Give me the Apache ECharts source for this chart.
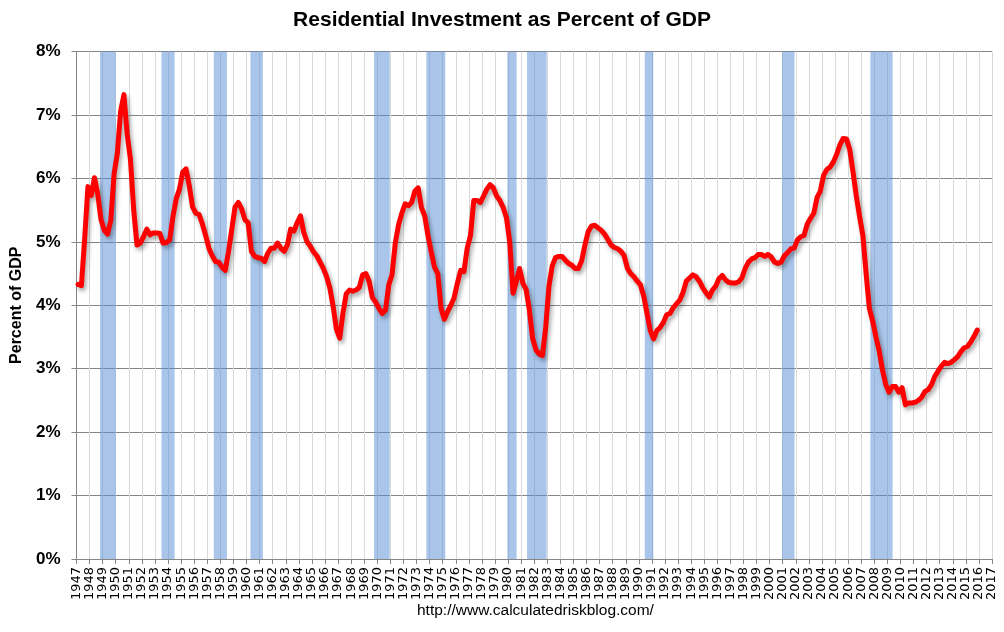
<!DOCTYPE html>
<html>
<head>
<meta charset="utf-8">
<title>Residential Investment as Percent of GDP</title>
<script src="https://cdn.jsdelivr.net/npm/echarts@6/dist/echarts.min.js"></script>
<style>
html,body{margin:0;padding:0;background:#fff;}
#chart{width:1004px;height:632px;}
</style>
</head>
<body>
<div id="chart"></div>
<script>
// quarterly series, first value is 1947 Q1
var startYear = 1947;
var endYear = 2017;
var resInvestPct = [
	4.33, 4.31, 5.05, 5.87, 5.73, 6.01, 5.75, 5.35, 5.18, 5.12, 5.34, 6.07,
	6.40, 7.06, 7.32, 6.70, 6.30, 5.50, 4.95, 4.98, 5.08, 5.20, 5.11, 5.14,
	5.14, 5.13, 4.98, 4.99, 5.03, 5.40, 5.68, 5.83, 6.10, 6.15, 5.88, 5.55,
	5.45, 5.43, 5.28, 5.10, 4.90, 4.78, 4.69, 4.68, 4.60, 4.55, 4.85, 5.20,
	5.55, 5.62, 5.52, 5.35, 5.30, 4.85, 4.77, 4.75, 4.74, 4.69, 4.82, 4.90,
	4.90, 4.98, 4.90, 4.85, 4.95, 5.20, 5.17, 5.30, 5.41, 5.15, 5.00, 4.93,
	4.84, 4.78, 4.68, 4.58, 4.45, 4.27, 3.98, 3.62, 3.48, 3.88, 4.18, 4.24,
	4.22, 4.24, 4.28, 4.48, 4.50, 4.38, 4.12, 4.05, 3.95, 3.87, 3.92, 4.32,
	4.48, 4.98, 5.27, 5.45, 5.60, 5.57, 5.62, 5.80, 5.85, 5.54, 5.41, 5.10,
	4.84, 4.60, 4.50, 3.95, 3.78, 3.90, 4.00, 4.12, 4.35, 4.55, 4.53, 4.90,
	5.10, 5.65, 5.65, 5.62, 5.72, 5.83, 5.90, 5.85, 5.72, 5.65, 5.54, 5.38,
	5.00, 4.19, 4.37, 4.58, 4.35, 4.25, 3.93, 3.48, 3.30, 3.23, 3.21, 3.65,
	4.30, 4.62, 4.75, 4.77, 4.77, 4.71, 4.66, 4.63, 4.58, 4.58, 4.70, 4.95,
	5.16, 5.25, 5.26, 5.22, 5.18, 5.12, 5.04, 4.95, 4.91, 4.89, 4.85, 4.78,
	4.58, 4.50, 4.45, 4.38, 4.32, 4.14, 3.87, 3.60, 3.47, 3.60, 3.65, 3.73,
	3.85, 3.87, 3.96, 4.02, 4.08, 4.20, 4.38, 4.43, 4.48, 4.45, 4.38, 4.28,
	4.20, 4.13, 4.24, 4.30, 4.42, 4.47, 4.40, 4.36, 4.35, 4.35, 4.37, 4.43,
	4.58, 4.68, 4.73, 4.75, 4.80, 4.80, 4.77, 4.80, 4.76, 4.68, 4.66, 4.68,
	4.78, 4.83, 4.89, 4.90, 5.03, 5.08, 5.10, 5.28, 5.37, 5.45, 5.70, 5.80,
	6.05, 6.14, 6.18, 6.26, 6.38, 6.53, 6.63, 6.62, 6.45, 6.10, 5.72, 5.40,
	5.10, 4.50, 3.95, 3.75, 3.50, 3.28, 2.98, 2.75, 2.63, 2.72, 2.72, 2.63,
	2.70, 2.43, 2.46, 2.46, 2.47, 2.50, 2.55, 2.64, 2.67, 2.75, 2.88, 2.96,
	3.04, 3.10, 3.08, 3.10, 3.14, 3.19, 3.27, 3.33, 3.35, 3.42, 3.51, 3.61
];
// recession shading (start / end as fractional years)
var recessionStart = [1948.8, 1953.5, 1957.5, 1960.3, 1969.75, 1973.75, 1979.95, 1981.45, 1990.45, 2000.95, 2007.7];
var recessionEnd   = [1950.0, 1954.5, 1958.5, 1961.25, 1970.95, 1975.2, 1980.65, 1982.95, 1991.1, 2001.9, 2009.4];

var yTicks = [0, 1, 2, 3, 4, 5, 6, 7, 8];

var lineData = [];
for (var i = 0; i < resInvestPct.length; i++) {
	// each quarter sits in the middle of its slot
	lineData.push([startYear + (i + 0.5) / 4, resInvestPct[i]]);
}
var bands = [];
for (var j = 0; j < recessionStart.length; j++) {
	bands.push([{xAxis: recessionStart[j]}, {xAxis: recessionEnd[j]}]);
}

var option = {
	backgroundColor: '#fff',
	animation: false,
	title: {
		text: 'Residential Investment as Percent of GDP',
		left: 'center',
		top: 5,
		textStyle: {
			fontFamily: 'Liberation Sans',
			fontSize: 21,
			fontWeight: 'bold',
			color: '#000'
		}
	},
	grid: {
		left: 76.5,
		right: 12,
		top: 51.5,
		bottom: 73,
		containLabel: false,
		outerBoundsMode: 'none'
	},
	xAxis: {
		type: 'value',
		min: startYear,
		max: endYear,
		interval: 1,
		axisLine: {show: true, onZero: false, lineStyle: {color: '#868686', width: 1}},
		axisTick: {show: true, length: 5, lineStyle: {color: '#868686'}},
		axisLabel: {
			rotate: 90,
			margin: 8,
			fontFamily: 'DejaVu Sans',
			fontSize: 13,
			color: '#000',
			showMinLabel: true,
			showMaxLabel: true,
			hideOverlap: false,
			formatter: function (v) { return String(v); }
		},
		splitLine: {show: true, lineStyle: {color: '#d9d9d9', width: 1}}
	},
	yAxis: {
		type: 'value',
		min: yTicks[0],
		max: yTicks[yTicks.length - 1],
		interval: 1,
		name: 'Percent of GDP',
		nameLocation: 'middle',
		nameRotate: 90,
		nameGap: 47,
		nameTextStyle: {fontFamily: 'Liberation Sans', fontSize: 16, fontWeight: 'bold', color: '#000'},
		axisLine: {show: true, lineStyle: {color: '#868686', width: 1}},
		axisTick: {show: true, length: 5, lineStyle: {color: '#868686'}},
		axisLabel: {
			formatter: '{value}%',
			margin: 16,
			fontFamily: 'Liberation Sans',
			fontSize: 17,
			fontWeight: 'bold',
			color: '#000'
		},
		splitLine: {show: true, lineStyle: {color: '#868686', width: 1}}
	},
	graphic: [{
		type: 'text',
		left: 417,
		top: 603,
		style: {
			text: 'http://www.calculatedriskblog.com/',
			fontFamily: 'Liberation Sans',
			fontSize: 15.5,
			fill: '#000'
		}
	}],
	series: [{
		// recession bars
		type: 'line',
		data: [],
		z: 1,
		silent: true,
		markArea: {
			silent: true,
			itemStyle: {color: 'rgba(83,141,213,0.5)'},
			data: bands
		}
	}, {
		name: 'Residential Investment',
		type: 'line',
		z: 3,
		data: lineData,
		showSymbol: false,
		symbol: 'none',
		lineStyle: {
			color: '#ff0000',
			width: 5,
			join: 'round',
			cap: 'round',
			shadowColor: 'rgba(0,0,0,0.35)',
			shadowBlur: 4,
			shadowOffsetX: 2,
			shadowOffsetY: 3
		}
	}]
};

var myChart = echarts.init(document.getElementById('chart'));
myChart.setOption(option);
</script>
</body>
</html>
